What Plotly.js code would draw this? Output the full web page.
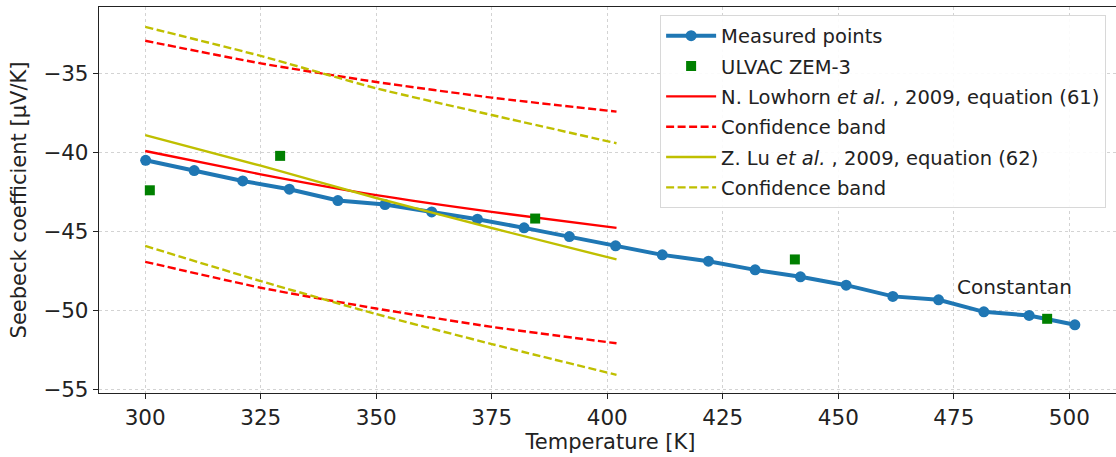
<!DOCTYPE html>
<html>
<head>
<meta charset="utf-8">
<script src="https://cdn.plot.ly/plotly-3.0.1.min.js"></script>
<style>
html,body{margin:0;padding:0;overflow:hidden;background:#fff;}
#chart{width:1122px;height:457px;}
</style>
</head>
<body>
<div id="chart"></div>
<script>
// Measured points (Constantan)
const measT = [300.1, 310.6, 321.1, 331.2, 341.7, 351.9, 362.0, 371.9, 382.0, 391.8, 401.8, 411.9, 421.9, 432.0, 441.8, 451.7, 461.8, 471.7, 481.5, 491.3, 501.2];
const measS = [-40.51, -41.16, -41.82, -42.34, -43.06, -43.31, -43.78, -44.24, -44.79, -45.34, -45.93, -46.50, -46.90, -47.45, -47.89, -48.42, -49.13, -49.35, -50.11, -50.34, -50.93];

// ULVAC ZEM-3
const zemT = [301.0, 329.2, 384.4, 440.6, 495.2];
const zemS = [-42.41, -40.23, -44.20, -46.79, -50.55];

// Model curves
const modelT = [300, 325, 350, 375, 402];
const lowhorn = [-39.92, -41.40, -42.72, -43.78, -44.79];
const lowhornUpper = [-32.94, -34.37, -35.55, -36.54, -37.43];
const lowhornLower = [-46.94, -48.58, -49.90, -51.06, -52.10];
const lu = [-38.92, -40.85, -42.90, -44.80, -46.79];
const luUpper = [-32.06, -33.90, -35.95, -37.64, -39.43];
const luLower = [-45.93, -48.16, -50.25, -52.15, -54.10];

const xTicks = [300, 325, 350, 375, 400, 425, 450, 475, 500];
const yTicks = [-55, -50, -45, -40, -35];

const RED = '#ff0000';
const OLIVE = '#bfbf00';
const BLUE = '#1f77b4';
const GREEN = '#008000';
const DASH = '8px,3.5px';
const FONT = 'DejaVu Sans, sans-serif';

const traces = [
  {x: measT, y: measS, mode: 'lines+markers', name: 'Measured points',
   line: {color: BLUE, width: 4}, marker: {color: BLUE, size: 11},
   legendrank: 1, legendgroup: 'a'},
  {x: modelT, y: lowhorn, mode: 'lines', name: 'N. Lowhorn <i>et al.</i> , 2009, equation (61)',
   line: {color: RED, width: 2.4, shape: 'spline', smoothing: 0.6}, legendrank: 3, legendgroup: 'c'},
  {x: modelT, y: lowhornUpper, mode: 'lines', name: 'Confidence band',
   line: {color: RED, width: 2.4, dash: DASH, shape: 'spline', smoothing: 0.6}, legendrank: 4, legendgroup: 'd'},
  {x: modelT, y: lowhornLower, mode: 'lines', name: 'Confidence band', showlegend: false,
   line: {color: RED, width: 2.4, dash: DASH, shape: 'spline', smoothing: 0.6}, legendgroup: 'd'},
  {x: modelT, y: lu, mode: 'lines', name: 'Z. Lu <i>et al.</i> , 2009, equation (62)',
   line: {color: OLIVE, width: 2.4, shape: 'spline', smoothing: 0.6}, legendrank: 5, legendgroup: 'e'},
  {x: modelT, y: luUpper, mode: 'lines', name: 'Confidence band',
   line: {color: OLIVE, width: 2.4, dash: DASH, shape: 'spline', smoothing: 0.6}, legendrank: 6, legendgroup: 'f'},
  {x: modelT, y: luLower, mode: 'lines', name: 'Confidence band', showlegend: false,
   line: {color: OLIVE, width: 2.4, dash: DASH, shape: 'spline', smoothing: 0.6}, legendgroup: 'f'},
  {x: zemT, y: zemS, mode: 'markers', name: 'ULVAC ZEM-3',
   marker: {color: GREEN, size: 10, symbol: 'square'}, legendrank: 2, legendgroup: 'b'}
];

const axisCommon = {
  showline: true, linecolor: '#222', linewidth: 1.2, mirror: true,
  ticks: 'outside', ticklen: 5, tickwidth: 1, tickcolor: '#222',
  showgrid: true, gridcolor: '#d3d3d3', griddash: 'dot', gridwidth: 1,
  zeroline: false,
  tickfont: {family: FONT, size: 21.5, color: '#222'}
};

const layout = {
  width: 1122, height: 457,
  margin: {l: 99, r: 0, t: 7, b: 64},
  paper_bgcolor: '#fff', plot_bgcolor: '#fff',
  font: {family: FONT, color: '#222'},
  showlegend: true,
  xaxis: Object.assign({}, axisCommon, {
    range: [290.0, 511.4], tickvals: xTicks, ticktext: xTicks.map(String),
    title: {text: 'Temperature [K]', font: {family: FONT, size: 21, color: '#222'}, standoff: 1}
  }),
  yaxis: Object.assign({}, axisCommon, {
    range: [-55.25, -30.8], tickvals: yTicks,
    title: {text: 'Seebeck coefficient [μV/K]', font: {family: FONT, size: 21, color: '#222'}, standoff: 10}
  }),
  legend: {
    x: 0.5485, y: 0.978, xanchor: 'left', yanchor: 'top',
    bgcolor: 'rgba(255,255,255,0.9)', bordercolor: '#d8d8d8', borderwidth: 1,
    font: {family: FONT, size: 19.5, color: '#222'},
    tracegroupgap: 2, itemwidth: 50
  },
  annotations: [{
    x: 475.3, y: -48.53, xref: 'x', yref: 'y', text: 'Constantan',
    showarrow: false, xanchor: 'left', yanchor: 'middle',
    font: {family: FONT, size: 20, color: '#222'}
  }]
};

Plotly.newPlot('chart', traces, layout, {displayModeBar: false, staticPlot: true});
</script>
</body>
</html>
